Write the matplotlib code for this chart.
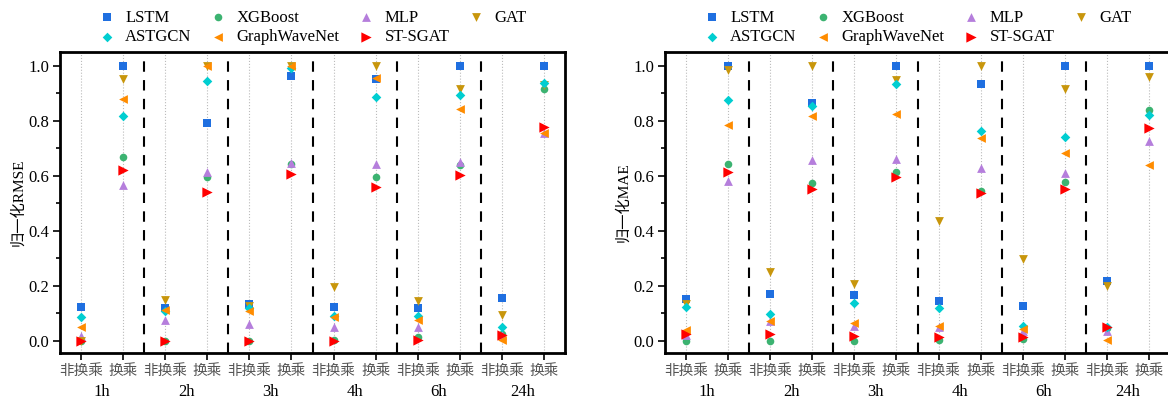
import numpy as np
from matplotlib import pyplot as plt
from matplotlib.ticker import MultipleLocator

plt.rcParams["font.family"] = ["Liberation Serif", "Noto Sans CJK SC"]

horizons = ["1h", "2h", "3h", "4h", "6h", "24h"]
tick_labels = ["非换乘", "换乘"] * 6
models = ["LSTM", "XGBoost", "MLP", "GAT", "ASTGCN", "GraphWaveNet", "ST-SGAT"]

# values per model, order: 1h非换乘, 1h换乘, 2h非换乘, 2h换乘, ...
rmse_lstm = [0.121, 1.0, 0.118, 0.793, 0.132, 0.961, 0.124, 0.95, 0.118, 1.0, 0.156, 1.0]
rmse_xgb = [0.0, 0.668, 0.0, 0.594, 0.0, 0.643, 0.003, 0.594, 0.015, 0.639, 0.025, 0.914]
rmse_mlp = [0.017, 0.566, 0.075, 0.612, 0.06, 0.647, 0.049, 0.641, 0.051, 0.651, 0.02, 0.754]
rmse_gat = [0.0, 0.952, 0.148, 1.0, 0.126, 1.0, 0.194, 1.0, 0.144, 0.914, 0.093, 0.93]
rmse_astgcn = [0.085, 0.818, 0.108, 0.944, 0.118, 0.993, 0.09, 0.886, 0.09, 0.895, 0.051, 0.936]
rmse_gwn = [0.049, 0.878, 0.113, 1.0, 0.108, 1.0, 0.087, 0.955, 0.075, 0.844, 0.003, 0.754]
rmse_stsgat = [0.0, 0.621, 0.0, 0.542, 0.0, 0.606, 0.0, 0.56, 0.003, 0.603, 0.021, 0.778]

mae_lstm = [0.150, 1.0, 0.169, 0.863, 0.166, 1.0, 0.145, 0.932, 0.127, 1.0, 0.217, 1.0]
mae_xgb = [0.0, 0.641, 0.0, 0.575, 0.0, 0.615, 0.003, 0.546, 0.005, 0.578, 0.045, 0.839]
mae_mlp = [0.02, 0.581, 0.07, 0.657, 0.055, 0.66, 0.05, 0.629, 0.035, 0.609, 0.035, 0.726]
mae_gat = [0.132, 0.984, 0.251, 1.0, 0.205, 0.948, 0.436, 1.0, 0.296, 0.914, 0.199, 0.96]
mae_astgcn = [0.124, 0.875, 0.097, 0.853, 0.136, 0.932, 0.118, 0.764, 0.053, 0.74, 0.05, 0.821]
mae_gwn = [0.039, 0.784, 0.072, 0.818, 0.063, 0.824, 0.055, 0.736, 0.041, 0.684, 0.003, 0.639]
mae_stsgat = [0.023, 0.615, 0.023, 0.551, 0.018, 0.596, 0.015, 0.536, 0.015, 0.551, 0.051, 0.772]

colors = ["#1f6fe0", "#3cb371", "#b57edc", "#c8960c", "#00ced1", "#ff8c00", "#ff0000"]
markers = ["s", "o", "^", "v", "D", "<", ">"]
sizes = [26, 30, 40, 40, 24, 40, 55]

fig = plt.figure(figsize=(11.68, 4.03), dpi=100)
ax1 = fig.add_axes([60 / 1168, 50 / 403, 505 / 1168, 301 / 403])
ax2 = fig.add_axes([665 / 1168, 50 / 403, 505 / 1168, 301 / 403])


def draw(ax, series, ylabel):
    x = np.arange(12)
    for vals, c, m, s, name in zip(series, colors, markers, sizes, models):
        ax.scatter(x, vals, color=c, marker=m, s=s, label=name, zorder=3, linewidths=0)
    for b in [1.5, 3.5, 5.5, 7.5, 9.5]:
        ax.axvline(b, color="black", linestyle=(0, (5, 4)), lw=1.5, zorder=2)
    ax.set_xlim(-0.5, 11.5)
    ax.set_ylim(-0.045, 1.05)
    ax.set_xticks(x)
    ax.set_xticklabels(tick_labels, color="#555555", fontsize=10.5)
    ax.yaxis.set_minor_locator(MultipleLocator(0.1))
    ax.set_yticks(np.arange(0, 1.01, 0.2))
    ax.set_yticklabels([f"{v:.1f}" for v in np.arange(0, 1.01, 0.2)], fontsize=12)
    ax.tick_params(axis="both", which="major", direction="out", length=5, width=1.2, pad=3)
    ax.tick_params(axis="y", which="minor", direction="out", length=3, width=1.2)
    ax.grid(axis="x", linestyle=":", color="#bbbbbb", lw=0.8, zorder=1)
    for sp in ax.spines.values():
        sp.set_linewidth(2)
    for i, h in enumerate(horizons):
        ax.text(2 * i + 0.5, -0.13, h, transform=ax.get_xaxis_transform(),
                ha="center", va="center", fontsize=12)
    ax.set_ylabel(ylabel, fontsize=11, labelpad=2)
    handles, labels = ax.get_legend_handles_labels()
    order = [0, 4, 1, 5, 2, 6, 3]
    ax.legend([handles[i] for i in order], [labels[i] for i in order],
              loc="lower center", bbox_to_anchor=(0.5, 0.99), ncol=4, frameon=False,
              fontsize=12, handletextpad=0.6, columnspacing=1.1, labelspacing=0.2,
              handlelength=1.0, borderaxespad=0.2)


draw(ax1, [rmse_lstm, rmse_xgb, rmse_mlp, rmse_gat, rmse_astgcn, rmse_gwn, rmse_stsgat], "归一化RMSE")
draw(ax2, [mae_lstm, mae_xgb, mae_mlp, mae_gat, mae_astgcn, mae_gwn, mae_stsgat], "归一化MAE")

fig.savefig("out.png", dpi=100)
